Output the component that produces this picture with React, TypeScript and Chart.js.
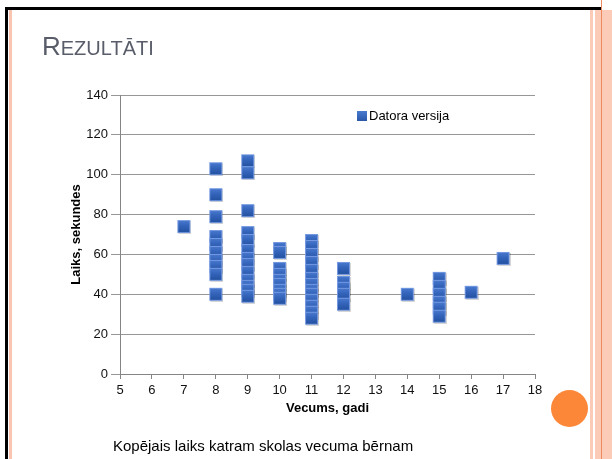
import { useEffect, useRef } from "react";
import { Chart, registerables } from "chart.js";

Chart.register(...registerables);

const slideTitleFirst = "R";
const slideTitleRest = "EZULTĀTI";
const caption = "Kopējais laiks katram skolas vecuma bērnam";
const seriesLabel = "Datora versija";
const xTitle = "Vecums, gadi";
const yTitle = "Laiks, sekundes";

const xMin = 5;
const xMax = 18;
const xStep = 1;
const yMin = 0;
const yMax = 140;
const yStep = 20;

const ages = [7, 8, 9, 10, 11, 12, 14, 15, 16, 17];
const times7 = [74];
const times8 = [103, 90, 79, 69, 65, 61, 57, 54, 50, 40];
const times9 = [107, 101, 82, 71, 67, 62, 58, 55, 51, 47, 44, 42, 39];
const times10 = [63, 61, 53, 50, 47, 45, 42, 40, 38];
const times11 = [67, 64, 60, 56, 52, 48, 45, 42, 40, 37, 34, 31, 28];
const times12 = [53, 46, 43, 40, 35];
const times14 = [40];
const times15 = [48, 44, 40, 36, 33, 29];
const times16 = [41];
const times17 = [58];
const timesByAge = [times7, times8, times9, times10, times11, times12, times14, times15, times16, times17];

const FONT = "'Liberation Sans', Arial, sans-serif";

function makeMarker(): HTMLCanvasElement {
  const c = document.createElement("canvas");
  c.width = 15;
  c.height = 15;
  const g = c.getContext("2d")!;
  g.fillStyle = "rgba(0,0,0,0.16)";
  g.fillRect(2, 2, 13, 13);
  const grad = g.createLinearGradient(0, 1, 0, 14);
  grad.addColorStop(0, "#4a7bd0");
  grad.addColorStop(0.45, "#3464ba");
  grad.addColorStop(1, "#22509f");
  g.fillStyle = grad;
  g.fillRect(1, 1, 13, 13);
  g.strokeStyle = "rgba(120,155,225,0.95)";
  g.lineWidth = 1;
  g.strokeRect(1.5, 1.5, 12, 12);
  return c;
}

const slidePlugin = {
  id: "slideText",
  afterDraw(chart: any) {
    const ctx = chart.ctx as CanvasRenderingContext2D;
    ctx.save();
    // title
    ctx.fillStyle = "#595d69";
    ctx.textBaseline = "alphabetic";
    ctx.textAlign = "left";
    ctx.font = `26px ${FONT}`;
    ctx.fillText(slideTitleFirst, 42, 55);
    const w = ctx.measureText(slideTitleFirst).width;
    ctx.font = `20px ${FONT}`;
    ctx.fillText(slideTitleRest, 42 + w, 55);
    // caption
    ctx.fillStyle = "#000";
    ctx.font = `15px ${FONT}`;
    ctx.fillText(caption, 113, 451);
    // legend
    const label = chart.data.datasets[0].label;
    const grad = ctx.createLinearGradient(0, 111, 0, 121);
    grad.addColorStop(0, "#4a7bd0");
    grad.addColorStop(1, "#2a57a8");
    ctx.fillStyle = grad;
    ctx.fillRect(357, 111, 10, 10);
    ctx.fillStyle = "#000";
    ctx.font = `13px ${FONT}`;
    ctx.textBaseline = "middle";
    ctx.fillText(label, 369, 116.5);
    ctx.restore();
  },
};

export default function App() {
  const ref = useRef<HTMLCanvasElement | null>(null);

  useEffect(() => {
    if (!ref.current) return;
    const marker = makeMarker();
    const points = ages.flatMap((a, i) => timesByAge[i].map((t) => ({ x: a, y: t })));
    const gridColor = "#979797";
    const axisColor = "#858585";
    const chart = new Chart(ref.current, {
      type: "scatter",
      data: {
        datasets: [
          {
            label: seriesLabel,
            data: points,
            pointStyle: marker as any,
            pointRadius: 6.5,
            pointHoverRadius: 6.5,
          },
        ],
      },
      options: {
        animation: false,
        responsive: false,
        devicePixelRatio: 1,
        layout: { padding: { left: 60, right: 77, top: 95, bottom: 43 } },
        plugins: { legend: { display: false }, tooltip: { enabled: false } },
        scales: {
          x: {
            type: "linear",
            min: xMin,
            max: xMax,
            ticks: { stepSize: xStep, padding: 4, color: "#111", font: { family: FONT, size: 13 } },
            grid: { drawOnChartArea: false, tickLength: 5, color: axisColor },
            border: { color: axisColor },
            title: {
              display: true,
              text: xTitle,
              color: "#000",
              font: { family: FONT, size: 13, weight: "bold" },
              padding: 0,
            },
            afterFit: (s: any) => {
              s.height = 42;
            },
          } as any,
          y: {
            type: "linear",
            min: yMin,
            max: yMax,
            ticks: { stepSize: yStep, padding: 3, color: "#111", font: { family: FONT, size: 13 } },
            grid: { color: gridColor, tickLength: 9 },
            border: { color: axisColor },
            title: {
              display: true,
              text: yTitle,
              color: "#000",
              font: { family: FONT, size: 13, weight: "bold" },
              padding: { top: 9, bottom: 0 },
            },
            afterFit: (s: any) => {
              s.width = 60;
            },
          } as any,
        },
      },
      plugins: [slidePlugin],
    });
    return () => chart.destroy();
  }, []);

  const stripe = "#fbcbb8";
  return (
    <div
      style={{
        position: "fixed",
        left: 0,
        top: 0,
        width: 612,
        height: 459,
        background: "#fff",
        overflow: "hidden",
      }}
    >
      <div style={{ position: "absolute", left: 5, top: 7, width: 596, height: 3, background: "#000" }} />
      <div style={{ position: "absolute", left: 5, top: 7, width: 3, height: 452, background: "#000" }} />
      <div style={{ position: "absolute", left: 9, top: 10, width: 3, height: 449, background: "#f9c4b0" }} />
      <div style={{ position: "absolute", left: 590, top: 10, width: 3, height: 449, background: stripe }} />
      <div style={{ position: "absolute", left: 595, top: 10, width: 17, height: 449, background: stripe }} />
      <div style={{ position: "absolute", left: 601, top: 0, width: 1, height: 459, background: "#ee8a60" }} />
      <div
        style={{
          position: "absolute",
          left: 550.5,
          top: 389.5,
          width: 37,
          height: 37,
          borderRadius: "50%",
          background: "#fd8738",
        }}
      />
      <canvas
        ref={ref}
        width={612}
        height={459}
        style={{ position: "absolute", left: 0, top: 0, width: 612, height: 459, display: "block" }}
      />
    </div>
  );
}
